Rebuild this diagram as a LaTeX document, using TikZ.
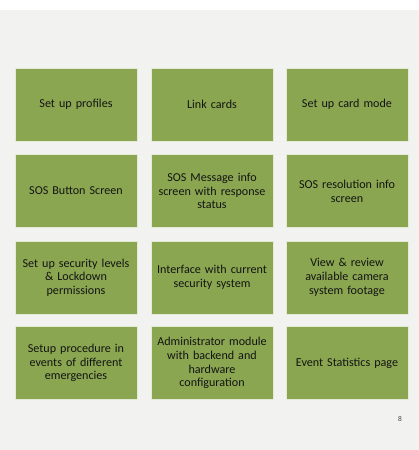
\documentclass[tikz,border=0pt]{standalone}
\usepackage{fontspec}
\setmainfont{Carlito}
\definecolor{bggray}{HTML}{F2F2F0}
\definecolor{boxgreen}{HTML}{8AA650}
\definecolor{boxedge}{HTML}{E4EAD6}
\definecolor{txt}{HTML}{141414}
\begin{document}
\begin{tikzpicture}[x=1pt,y=-1pt,
  card/.style={draw=boxedge, line width=0.8pt, fill=boxgreen,
    minimum width=122pt, minimum height=73pt, inner sep=2pt,
    text width=118pt, align=center, text=txt,
    font=\fontsize{12.1}{13.7}\selectfont}]
\useasboundingbox (0,0) rectangle (419,450);
\fill[white] (0,0) rectangle (419,450);
\fill[bggray] (0,10) rectangle (419,450);
\node[card] (a1) at (76,104.5) {Set up profiles};
\node[card] (a2) at (212,104.5) {Link cards};
\node[card] (a3) at (347,104.5) {Set up card mode};
\node[card] (b1) at (76,191) {SOS Button Screen};
\node[card] (b2) at (212,191) {SOS Message info\\screen with response\\status};
\node[card] (b3) at (347,191) {SOS resolution info\\screen};
\node[card] (c1) at (76,277.5) {Set up security levels\\\& Lockdown\\permissions};
\node[card] (c2) at (212,277.5) {Interface with current\\security system};
\node[card] (c3) at (347,277.5) {View \& review\\available camera\\system footage};
\node[card] (d1) at (76,363) {Setup procedure in\\events of different\\emergencies};
\node[card] (d2) at (212,363) {Administrator module\\with backend and\\hardware\\configuration};
\node[card] (d3) at (347,363) {Event Statistics page};
\node[text=gray!55!black, font=\fontsize{7.5}{9}\selectfont] (pg) at (400,419) {8};
\end{tikzpicture}
\end{document}
